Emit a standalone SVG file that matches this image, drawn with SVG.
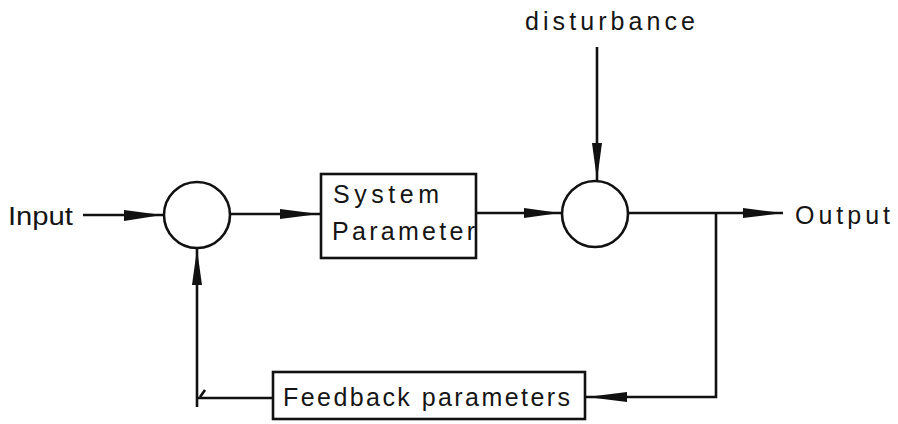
<svg xmlns="http://www.w3.org/2000/svg" width="898" height="424" viewBox="0 0 898 424">
<style>
.ln{fill:none;stroke:#111;stroke-width:2.6}
.nd{fill:#fff;stroke:#111;stroke-width:2.6}
.ah{fill:#111;stroke:none}
text{font-family:"Liberation Sans","DejaVu Sans",sans-serif;font-size:25px;fill:#151515}
</style>
<rect width="898" height="424" fill="#fff"/>
<g id="connectors">
<line class="ln" x1="83" y1="215" x2="164" y2="215"/>
<polygon class="ah" points="124,210 162,215 124,221"/>
<line class="ln" x1="230" y1="214" x2="321" y2="214"/>
<polygon class="ah" points="280,209 319,214 280,219"/>
<line class="ln" x1="476" y1="213" x2="562" y2="213"/>
<polygon class="ah" points="524,208 560,213 524,218"/>
<line class="ln" x1="597" y1="47" x2="597" y2="182"/>
<polygon class="ah" points="592,143 597,180 602,143"/>
<line class="ln" x1="628" y1="213" x2="783" y2="213"/>
<polygon class="ah" points="743,208 783,213 743,218"/>
<polyline class="ln" points="716,213 716,397 585,397"/>
<polygon class="ah" points="627,392 587,397 627,402"/>
<polyline class="ln" points="273,398 197,398"/>
<line class="ln" x1="197" y1="407" x2="197" y2="249"/>
<polygon class="ah" points="192,285 197,249 202,285"/>
<path class="ln" d="M200,397 L205,390" stroke-width="1.5"/>
</g>
<g id="input"><text x="8" y="225" textLength="65" lengthAdjust="spacingAndGlyphs">Input</text></g>
<g id="sum1"><circle class="nd" cx="197" cy="215" r="33"/></g>
<g id="system"><rect class="nd" x="321" y="174" width="155" height="84"/>
<text x="333" y="203" textLength="106" lengthAdjust="spacing">System</text>
<text x="332" y="240" textLength="143" lengthAdjust="spacing">Parameter</text></g>
<g id="sum2"><circle class="nd" cx="595" cy="214" r="33"/></g>
<g id="disturbance"><text x="525" y="30" textLength="170" lengthAdjust="spacing">disturbance</text></g>
<g id="output"><text x="795" y="224" textLength="95" lengthAdjust="spacing">Output</text></g>
<g id="feedback"><rect class="nd" x="273" y="372" width="312" height="47"/>
<text x="283" y="406" textLength="287" lengthAdjust="spacing">Feedback parameters</text></g>
</svg>
